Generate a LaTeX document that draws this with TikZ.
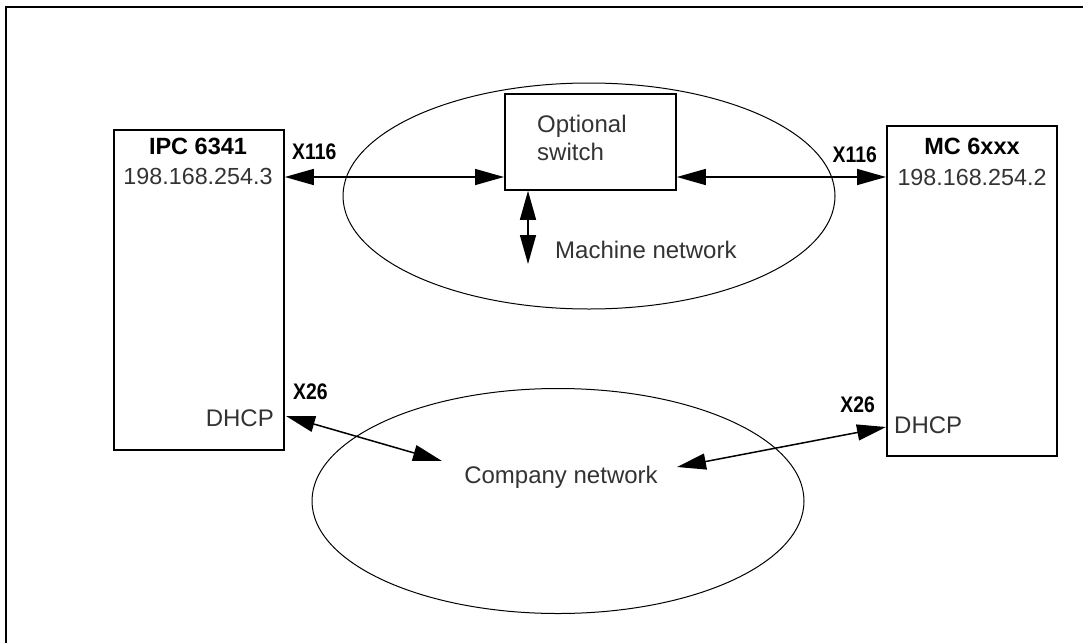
\documentclass[tikz,border=0pt]{standalone}
\usepackage{fontspec}
\setmainfont{Liberation Sans}
\usepackage{graphicx}
\usetikzlibrary{arrows.meta,shapes.geometric}
\definecolor{txtgray}{gray}{0.2}
\tikzset{
  devbox/.style={draw, line width=1.8pt, rectangle, minimum width=170pt, inner sep=0pt, anchor=north west},
  netell/.style={draw, line width=1pt, ellipse, inner sep=0pt},
  conn/.style={line width=1.5pt, {Triangle[length=29pt,width=16pt]}-{Triangle[length=29pt,width=16pt]}},
  txt/.style={inner sep=0pt, text=txtgray, font=\fontsize{24}{26}\selectfont},
  iptxt/.style={inner sep=0pt, text=txtgray, font=\fontsize{23.3}{26}\selectfont},
  ttl/.style={inner sep=0pt, text=black, font=\fontsize{23.5}{26}\selectfont\bfseries},
  port/.style={inner sep=0pt, text=black, font=\fontsize{22.5}{26}\selectfont\bfseries},
}
\newcommand{\cond}[1]{\scalebox{0.86}[1]{#1}}
\begin{document}
\begin{tikzpicture}[x=1pt,y=-1pt]
\useasboundingbox (0,0) rectangle (1083,642);
% frame
\draw[line width=2.4pt] (6,643) -- (6,7) -- (1084,7);
% networks
\node[netell, minimum width=492pt, minimum height=226pt] (mnet) at (589,196) {};
\node[netell, minimum width=492pt, minimum height=225pt] (cnet) at (558,501) {};
% devices
\node[devbox, minimum height=320pt] (ipc) at (113,129) {};
\node[devbox, minimum height=330pt] (mc) at (886,125) {};
\node[devbox, minimum width=171pt, minimum height=96pt] (sw) at (504,93) {};
% texts
\node[ttl, anchor=base] (ipcname) at (198,154) {IPC 6341};
\node[iptxt, anchor=base] (ipcip) at (198,184) {198.168.254.3};
\node[txt, anchor=base east] (ipcdhcp) at (274,426) {DHCP};
\node[ttl, anchor=base] (mcname) at (972,154) {MC 6xxx};
\node[iptxt, anchor=base] (mcip) at (972,185) {198.168.254.2};
\node[txt, anchor=base west] (mcdhcp) at (894,433) {DHCP};
\node[txt, anchor=base west] (swt1) at (537,132) {Optional};
\node[txt, anchor=base west] (swt2) at (537,160) {switch};
\node[txt, anchor=base west] (mnetlbl) at (555,258) {Machine network};
\node[txt, anchor=base] (cnetlbl) at (561,483) {Company network};
\node[port, anchor=base west] (pl116) at (292,159) {\cond{X116}};
\node[port, anchor=base west] (pl26) at (293,399) {\cond{X26}};
\node[port, anchor=base east] (pr116) at (877,162) {\cond{X116}};
\node[port, anchor=base east] (pr26) at (875,412) {\cond{X26}};
% port coordinates
\coordinate (ipcA) at (ipc.north east |- 0,177);
\coordinate (swL) at (sw.west |- 0,177);
\coordinate (swR) at (sw.east |- 0,177);
\coordinate (mcA) at (mc.north west |- 0,177);
\coordinate (swS) at (sw.south west -| 528,0);
\coordinate (mnetEnd) at (528,264);
\coordinate (ipcB) at (286,416);
\coordinate (cnetL) at (442,461);
\coordinate (cnetR) at (677,467);
\coordinate (mcB) at (mc.north west |- 0,427);
% connectors
\draw[conn] (ipcA) -- (swL);
\draw[conn] (swR) -- (mcA);
\draw[conn] (swS) -- (mnetEnd);
\draw[conn] (ipcB) -- (cnetL);
\draw[conn] (cnetR) -- (mcB);
\end{tikzpicture}
\end{document}
